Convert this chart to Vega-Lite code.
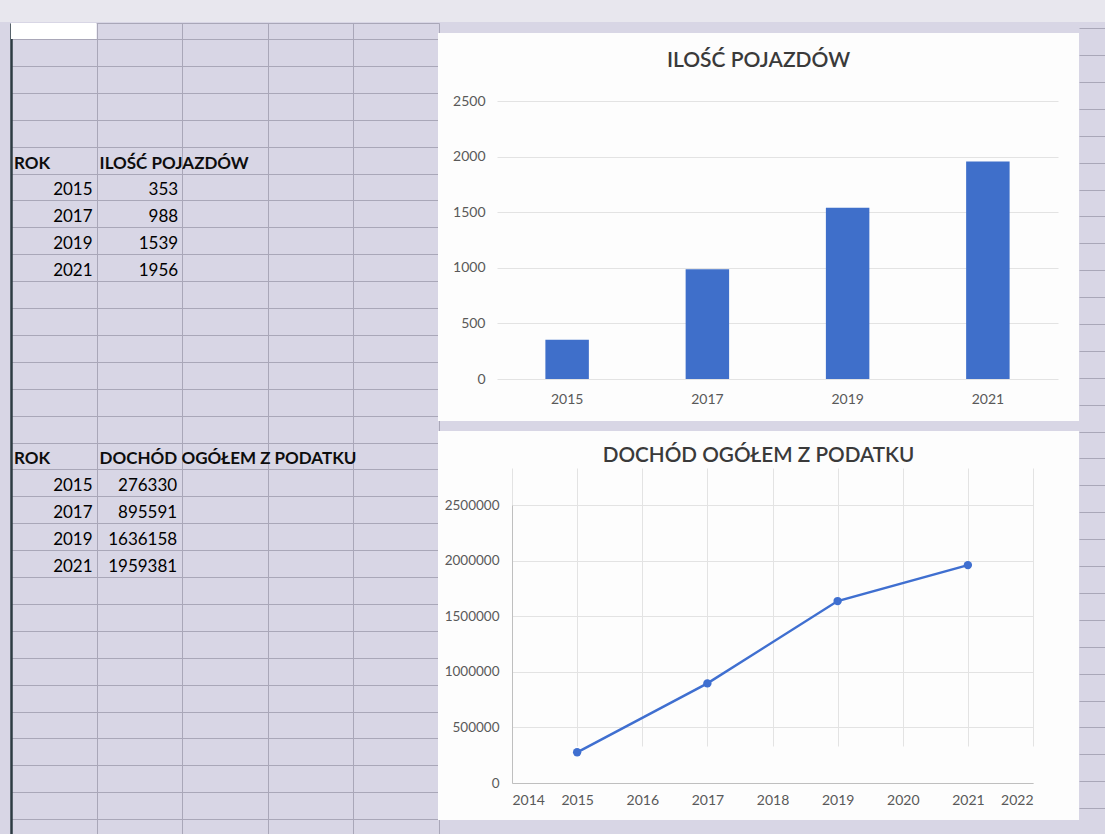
{
  "$schema": "https://vega.github.io/schema/vega-lite/v6.json",
  "background": "#d8d6e5",
  "padding": 0,
  "spacing": 0,
  "config": {
    "font": "Lato",
    "view": {"stroke": null},
    "axis": {"labelFont": "Lato", "labelColor": "#595959", "title": null},
    "title": {"font": "Lato"}
  },
  "datasets": {
    "pojazdy": [
      {"ROK": 2015, "ILOSC": 353, "wiersz": 6},
      {"ROK": 2017, "ILOSC": 988, "wiersz": 7},
      {"ROK": 2019, "ILOSC": 1539, "wiersz": 8},
      {"ROK": 2021, "ILOSC": 1956, "wiersz": 9}
    ],
    "dochod": [
      {"ROK": 2015, "DOCHOD": 276330, "wiersz": 17},
      {"ROK": 2017, "DOCHOD": 895591, "wiersz": 18},
      {"ROK": 2019, "DOCHOD": 1636158, "wiersz": 19},
      {"ROK": 2021, "DOCHOD": 1959381, "wiersz": 20}
    ],
    "naglowki": [
      {"kolumna": 0, "wiersz": 5, "tekst": "ROK"},
      {"kolumna": 1, "wiersz": 5, "tekst": "ILOŚĆ POJAZDÓW"},
      {"kolumna": 0, "wiersz": 16, "tekst": "ROK"},
      {"kolumna": 1, "wiersz": 16, "tekst": "DOCHÓD OGÓŁEM Z PODATKU"}
    ]
  },
  "vconcat": [
    {
      "width": 1105,
      "height": 22,
      "view": {"fill": "#e8e7ee", "stroke": null},
      "data": {"values": []},
      "mark": "point"
    },
    {
      "spacing": 0,
      "hconcat": [
        {
          "width": 438,
          "height": 812,
          "layer": [
            {
              "data": {"values": [{}]},
              "mark": {"type": "rect", "color": "#ffffff"},
              "encoding": {
                "x": {
                  "datum": 0,
                  "type": "quantitative",
                  "scale": {"domain": [0, 5], "range": [11, 439], "nice": false, "zero": false},
                  "axis": {"orient": "top", "labels": false, "ticks": false, "domain": false, "grid": true, "tickCount": 20, "values": [0, 1, 2, 3, 4, 5], "gridColor": "#a9a7b8", "gridWidth": 1}
                },
                "x2": {"datum": 1},
                "y": {
                  "datum": -0.6,
                  "type": "quantitative",
                  "scale": {"domain": [-0.6, 30], "range": [0.9, 824], "nice": false, "zero": false},
                  "axis": {"orient": "left", "offset": -11, "labels": false, "ticks": false, "domain": true, "domainColor": "#2d3b42", "domainWidth": 2.5, "grid": true, "gridColor": "#a9a7b8", "gridWidth": 1, "tickCount": 60,
                    "values": [-0.6, 0, 1, 2, 3, 4, 5, 6, 7, 8, 9, 10, 11, 12, 13, 14, 15, 16, 17, 18, 19, 20, 21, 22, 23, 24, 25, 26, 27, 28, 29]}
                },
                "y2": {"datum": 0}
              }
            },
            {
              "data": {"name": "naglowki"},
              "mark": {"type": "text", "align": "left", "baseline": "alphabetic", "dx": 3, "dy": -5, "fontSize": 17, "fontWeight": "bold", "color": "#0d0d0d"},
              "encoding": {
                "x": {"field": "kolumna", "type": "quantitative"},
                "y": {"field": "wiersz", "type": "quantitative"},
                "text": {"field": "tekst", "type": "nominal"}
              }
            },
            {
              "data": {"name": "pojazdy"},
              "mark": {"type": "text", "align": "right", "baseline": "alphabetic", "dx": -4, "dy": -5, "fontSize": 17, "color": "#000000"},
              "encoding": {
                "x": {"datum": 1},
                "y": {"field": "wiersz", "type": "quantitative"},
                "text": {"field": "ROK", "type": "nominal"}
              }
            },
            {
              "data": {"name": "pojazdy"},
              "mark": {"type": "text", "align": "right", "baseline": "alphabetic", "dx": -4, "dy": -5, "fontSize": 17, "color": "#000000"},
              "encoding": {
                "x": {"datum": 2},
                "y": {"field": "wiersz", "type": "quantitative"},
                "text": {"field": "ILOSC", "type": "nominal"}
              }
            },
            {
              "data": {"name": "dochod"},
              "mark": {"type": "text", "align": "right", "baseline": "alphabetic", "dx": -4, "dy": -5, "fontSize": 17, "color": "#000000"},
              "encoding": {
                "x": {"datum": 1},
                "y": {"field": "wiersz", "type": "quantitative"},
                "text": {"field": "ROK", "type": "nominal"}
              }
            },
            {
              "data": {"name": "dochod"},
              "mark": {"type": "text", "align": "right", "baseline": "alphabetic", "dx": -5, "dy": -5, "fontSize": 17, "color": "#000000"},
              "encoding": {
                "x": {"datum": 2},
                "y": {"field": "wiersz", "type": "quantitative"},
                "text": {"field": "DOCHOD", "type": "nominal"}
              }
            }
          ]
        },
        {
          "spacing": 10,
          "vconcat": [
            {
              "width": 641,
              "height": 1,
              "data": {"values": []},
              "mark": "point"
            },
            {
              "width": 641,
              "height": 388,
              "view": {"fill": "#fdfdfd", "stroke": null},
              "title": {"text": "ILOŚĆ POJAZDÓW", "offset": -38, "fontSize": 21, "fontWeight": 600, "color": "#3a3a3a", "anchor": "middle", "frame": "group"},
              "data": {"name": "pojazdy"},
              "mark": {"type": "bar", "color": "#3f6fca"},
              "encoding": {
                "x": {
                  "field": "ROK",
                  "type": "ordinal",
                  "scale": {"range": [59, 620], "paddingInner": 0.69, "paddingOuter": 0.345},
                  "axis": {"offset": -42, "domain": false, "ticks": false, "labelPadding": 13, "labelFontSize": 14, "labelAngle": 0, "grid": false}
                },
                "y": {
                  "field": "ILOSC",
                  "type": "quantitative",
                  "scale": {"domain": [0, 2500], "range": [346, 68], "nice": false},
                  "axis": {"offset": -59, "values": [0, 500, 1000, 1500, 2000, 2500], "format": "d", "domain": false, "ticks": false, "labelPadding": 12, "labelFontSize": 14, "gridColor": "#e3e3e3"}
                }
              }
            },
            {
              "width": 641,
              "height": 389,
              "view": {"fill": "#fdfdfd", "stroke": null},
              "title": {"text": "DOCHÓD OGÓŁEM Z PODATKU", "offset": -36, "fontSize": 20.7, "fontWeight": 600, "color": "#3a3a3a", "anchor": "middle", "frame": "group"},
              "data": {"name": "dochod"},
              "encoding": {
                "x": {
                  "field": "ROK",
                  "type": "quantitative",
                  "scale": {"domain": [2014, 2022], "range": [74, 595], "nice": false, "zero": false},
                  "axis": {"offset": -37, "values": [2014, 2015, 2016, 2017, 2018, 2019, 2020, 2021, 2022], "tickCount": 20, "format": "d", "domain": true, "domainColor": "#bfbfbf", "ticks": false, "labelPadding": 10, "labelFontSize": 14, "gridColor": "#e3e3e3"}
                },
                "y": {
                  "field": "DOCHOD",
                  "type": "quantitative",
                  "scale": {"domain": [0, 2500000], "range": [352, 74], "nice": false},
                  "axis": {"offset": -74, "values": [0, 500000, 1000000, 1500000, 2000000, 2500000], "tickCount": 20, "format": "d", "domain": true, "domainColor": "#bfbfbf", "ticks": false, "labelPadding": 13, "labelFontSize": 13.5, "gridColor": "#e3e3e3"}
                }
              },
              "layer": [
                {"mark": {"type": "line", "color": "#3f6fd0", "strokeWidth": 2.5}},
                {"mark": {"type": "point", "filled": true, "color": "#3f6fd0", "size": 70, "opacity": 1}}
              ]
            }
          ]
        },
        {
          "width": 26,
          "height": 812,
          "data": {"values": [{}]},
          "mark": {"type": "point", "opacity": 0},
          "encoding": {
            "y": {
              "datum": 0,
              "type": "quantitative",
              "scale": {"domain": [-0.6, 30], "range": [-10, 813], "nice": false, "zero": false},
              "axis": {"labels": false, "ticks": false, "domain": false, "grid": true, "gridColor": "#a9a7b8", "gridWidth": 1, "tickCount": 60,
                "values": [0, 1, 2, 3, 4, 5, 6, 7, 8, 9, 10, 11, 12, 13, 14, 15, 16, 17, 18, 19, 20, 21, 22, 23, 24, 25, 26, 27, 28, 29]}
            }
          }
        }
      ]
    }
  ]
}
